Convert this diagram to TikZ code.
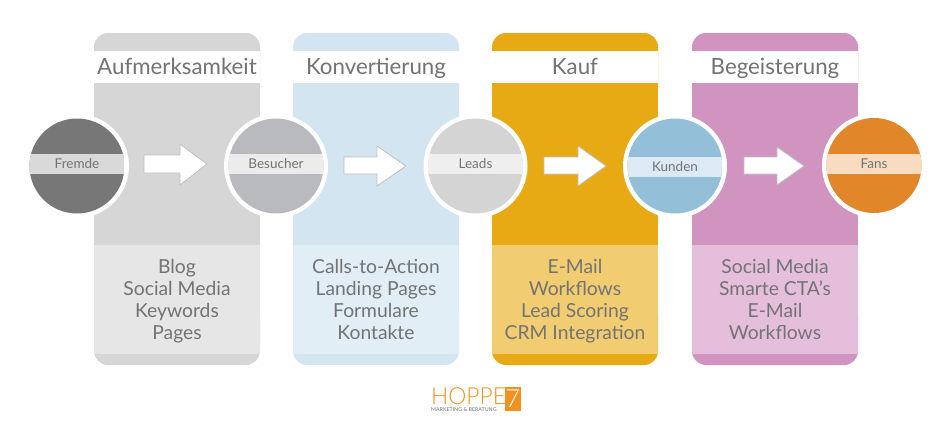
\documentclass[tikz,border=0pt]{standalone}
\usepackage{fontspec}
\setmainfont{Lato}
\newfontfamily\logofont{Lato Light}
\definecolor{labelgray}{HTML}{737375}
\definecolor{logoorange}{HTML}{F0921E}
\tikzset{
	cardtitle/.style={font=\fontsize{22.3}{22.3}\selectfont, text=labelgray, anchor=base},
	cardlist/.style={font=\fontsize{19.3}{22}\selectfont, text=labelgray, align=center, anchor=north},
	stagelabel/.style={font=\fontsize{13.5}{13.5}\selectfont, text=labelgray, anchor=center},
	flowarrow/.style={draw=black!25, fill=white, line width=0.8pt}
}
\begin{document}
\begin{tikzpicture}[x=1pt, y=-1pt, line join=round]
	\useasboundingbox (0,0) rectangle (951,434);
	% cards
	\foreach \x/\top/\low/\name/\title/\items in {
		94/D6D6D6/E6E6E6/aware/Aufmerksamkeit/{Blog\\Social Media\\Keywords\\Pages},
		293/D3E5F0/E2EEF5/convert/Konvertierung/{Calls-to-Action\\Landing Pages\\Formulare\\Kontakte},
		492/E8AA14/F1CC70/buy/Kauf/{E-Mail\\Workflows\\Lead Scoring\\CRM Integration},
		692/D193C0/E5BEDC/delight/Begeisterung/{Social Media\\Smarte CTA's\\E-Mail\\Workflows}}
	{
		\definecolor{cardtop}{HTML}{\top}
		\definecolor{cardlow}{HTML}{\low}
		\fill[cardtop, rounded corners=14pt] (\x,33) rectangle (\x+166,100);
		\fill[cardtop] (\x,60) rectangle (\x+166,245);
		\fill[cardtop, rounded corners=14pt] (\x,300) rectangle (\x+166,365);
		\fill[cardlow] (\x,245) rectangle (\x+166,354);
		\fill[white] (\x,51) rectangle (\x+166,83);
		\node[cardtitle] (\name title) at (\x+83,74.5) {\title};
		\node[cardlist] (\name list) at (\x+83,256) {\items};
	}
	% arrows
	\foreach \l/\b/\t/\sa/\sb/\ha/\hb/\m in {
		144/180/207/155/173/144/185/164,
		344/377/406/157/174/146/186/166,
		544/578/606/157/174/146/186/166,
		744/777/804/157/174/147/185/166}
		\draw[flowarrow] (\l,\sa)--(\b,\sa)--(\b,\ha)--(\t,\m)--(\b,\hb)--(\b,\sb)--(\l,\sb)--cycle;
	% circles
	\foreach \x/\y/\band/\dark/\light/\name/\txt in {
		77/166/164/777777/D9D9D9/fremde/Fremde,
		276/166/164/B9BABD/ECECEC/besucher/Besucher,
		475.5/166/164/D4D4D4/EFEFEF/leads/Leads,
		675/166/166.5/94BFD9/DDEAF3/kunden/Kunden,
		874/165.5/164/E2862A/F7DCC1/fans/Fans}
	{
		\definecolor{stagedark}{HTML}{\dark}
		\definecolor{stagelight}{HTML}{\light}
		\fill[white] (\x,\y) circle (52);
		\begin{scope}
			\clip (\x,\y) circle (47.5);
			\fill[stagedark] (\x-48,\y-48) rectangle (\x+48,\y+48);
			\fill[stagelight] (\x-48,\band-10) rectangle (\x+48,\band+10);
		\end{scope}
		\node[stagelabel] (\name) at (\x,\band) {\txt};
	}
	% logo
	\node[anchor=base west, inner sep=0pt, text=logoorange, font=\logofont\fontsize{23.5}{23.5}\selectfont, xscale=0.97, transform shape] (logoname) at (431,404) {HOPPE};
	\fill[logoorange] (504.5,387) rectangle (521,411);
	\node[text=white, inner sep=0pt, font=\logofont\fontsize{25}{25}\selectfont] (logoseven) at (512.8,399) {7};
	\node[anchor=base west, inner sep=0pt, text=black!55, font=\fontsize{5.3}{5.3}\selectfont] (logotag) at (431,411) {MARKETING \& BERATUNG};
\end{tikzpicture}
\end{document}
